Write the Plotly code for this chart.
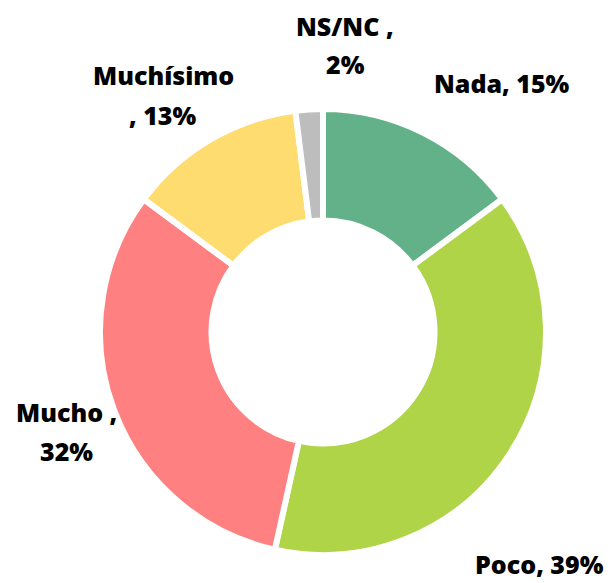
import plotly.graph_objects as go

categories = ["Nada", "Poco", "Mucho", "Muchísimo", "NS/NC"]
values = [15, 39, 32, 13, 2]
separators = [", ", ", ", " ,<br>", "<br>, ", " ,<br>"]
colors = ["#62b189", "#b0d448", "#ff8080", "#ffdc70", "#bdbdbd"]
label_pos = [(494, 75), (531, 556), (58, 423), (155, 87), (337, 37)]

W, H = 613, 583
cx, cy, R = 315, 324, 223
line_gap = 39

fig = go.Figure()
fig.add_trace(go.Pie(
    labels=categories,
    values=values,
    sort=False,
    direction="clockwise",
    rotation=0,
    hole=0.5,
    textinfo="none",
    hoverinfo="label+percent",
    marker=dict(colors=colors, line=dict(color="white", width=6)),
    domain=dict(x=[(cx - R) / W, (cx + R) / W], y=[(H - cy - R) / H, (H - cy + R) / H]),
    showlegend=False,
))

total = sum(values)
for cat, v, sep, (px, py) in zip(categories, values, separators, label_pos):
    text = f"{cat}{sep}{round(100 * v / total)}%"
    lines = text.split("<br>")
    n = len(lines)
    for i, line in enumerate(lines):
        ly = py + (i - (n - 1) / 2) * line_gap
        fig.add_annotation(
            x=px / W, y=1 - ly / H, xref="paper", yref="paper",
            text=line,
            showarrow=False, xanchor="center", yanchor="middle",
            font=dict(family="Open Sans", size=25, color="black", weight=800),
        )

fig.update_layout(
    width=W, height=H,
    margin=dict(l=0, r=0, t=0, b=0),
    paper_bgcolor="white", plot_bgcolor="white",
)
fig.write_html("out.html")
